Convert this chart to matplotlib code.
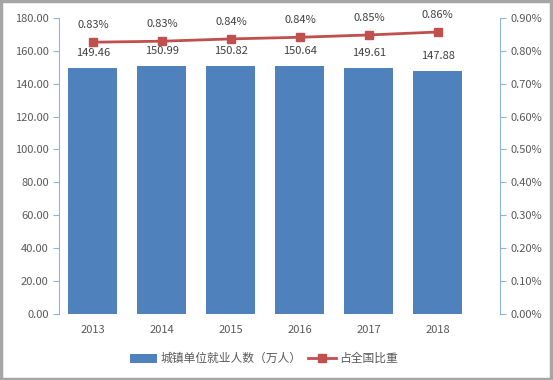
import matplotlib
matplotlib.use("Agg")
import matplotlib.pyplot as plt
from matplotlib.patches import Rectangle
from matplotlib.ticker import FuncFormatter, MultipleLocator

plt.rcParams['font.family'] = ['Noto Sans CJK SC', 'DejaVu Sans']

years = ['2013', '2014', '2015', '2016', '2017', '2018']
employment = [149.46, 150.99, 150.82, 150.64, 149.61, 147.88]
share = [0.826, 0.829, 0.836, 0.841, 0.848, 0.857]
share_labels = ['0.83%', '0.83%', '0.84%', '0.84%', '0.85%', '0.86%']
bar_name = '城镇单位就业人数（万人）'
line_name = '占全国比重'

bar_color = '#4F81BD'
line_color = '#C0504D'
axis_color = '#8EB4E3'
text_color = '#595959'

fig = plt.figure(figsize=(5.53, 3.80), dpi=100)
fig.patches.append(Rectangle((0.002, 0.003), 0.994, 0.994, transform=fig.transFigure,
                             fill=False, edgecolor='#A6A6A6', linewidth=2.5))

ax = fig.add_axes([0.107, 0.174, 0.797, 0.779])
x = range(len(years))
bars = ax.bar(x, employment, width=0.71, color=bar_color, label=bar_name, zorder=2)
ax.set_ylim(0, 180)
ax.set_xlim(-0.49, 5.9)
ax.yaxis.set_major_locator(MultipleLocator(20))
ax.yaxis.set_major_formatter(FuncFormatter(lambda v, p: f'{v:.2f}'))
ax.set_xticks(list(x))
ax.set_xticklabels(years)
for s in ['top', 'right', 'bottom']:
    ax.spines[s].set_visible(False)
ax.spines['left'].set_color(axis_color)
ax.tick_params(axis='y', colors=axis_color, labelcolor=text_color, labelsize=8, length=4, direction='out')
ax.tick_params(axis='x', length=0, labelcolor=text_color, labelsize=8, pad=8)
for xi, v in zip(x, employment):
    ax.text(xi, v + 6, f'{v:.2f}', ha='center', va='bottom', fontsize=8, color='#404040')

ax2 = ax.twinx()
ax2.set_ylim(0, 0.90)
line, = ax2.plot(list(x), share, color=line_color, linewidth=2.0, marker='s', markersize=5.2,
                 label=line_name, zorder=3)
ax2.yaxis.set_major_locator(MultipleLocator(0.10))
ax2.yaxis.set_major_formatter(FuncFormatter(lambda v, p: f'{v:.2f}%'))
for s in ['top', 'left', 'bottom']:
    ax2.spines[s].set_visible(False)
ax2.spines['right'].set_color(axis_color)
ax2.tick_params(axis='y', colors=axis_color, labelcolor=text_color, labelsize=8, length=4, direction='out')
for xi, v, lab in zip(x, share, share_labels):
    ax2.text(xi, v + 0.036, lab, ha='center', va='bottom', fontsize=8, color='#404040')

handles = [bars, line]
fig.legend(handles, [bar_name, line_name], loc='center', bbox_to_anchor=(0.477, 0.056),
           ncol=2, frameon=False, fontsize=8.5, labelcolor=text_color,
           handlelength=2.3, handleheight=0.8, columnspacing=0.6, handletextpad=0.3)

fig.savefig('out.png', dpi=100)
